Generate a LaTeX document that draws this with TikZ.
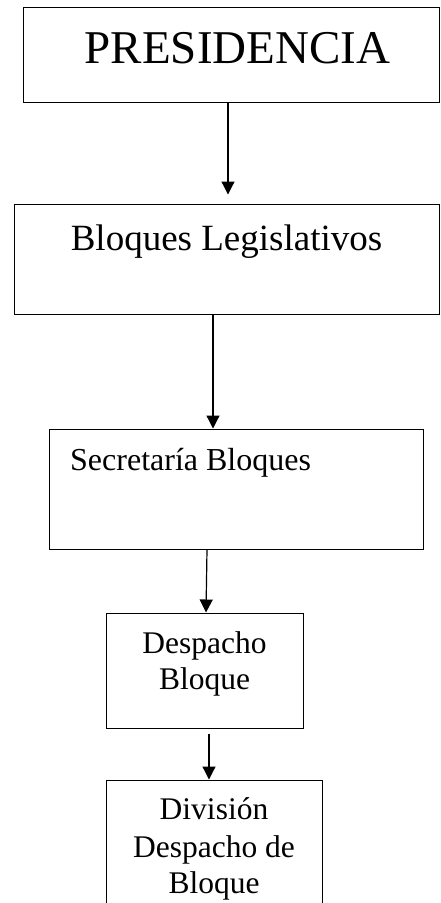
\documentclass[tikz,border=0pt]{standalone}
\usepackage{fontspec}
\setmainfont{Liberation Serif}
\usetikzlibrary{arrows.meta}
\usetikzlibrary{positioning}
\tikzset{box/.style = {draw, rectangle, line width = 1pt, inner sep = 0}}
\tikzset{arr/.style = {line width = 1.2pt, -{Triangle[length = 13pt, width = 13pt]}}}
\tikzset{txt/.style = {anchor = base, inner sep = 0}}

\begin{document}
\begin{tikzpicture}[x = 1pt, y = 1pt]
    \clip (0, 0) rectangle (440, -903);

    \node [box, minimum width = 416pt, minimum height = 95pt] (pres) at (231, -54.5) {};
    \node [txt, font = \fontsize{47}{56}\selectfont] (presText) at (237.5, -63) {PRESIDENCIA};

    \node [box, minimum width = 425pt, minimum height = 110pt] (bloq) at (226.5, -259) {};
    \node [txt, font = \fontsize{37}{44}\selectfont] (bloqText) at (226.5, -250) {Bloques Legislativos};

    \node [box, minimum width = 374pt, minimum height = 120pt] (sec) at (236, -489) {};
    \node [txt, anchor = base west, font = \fontsize{32}{38}\selectfont] (secText) at (70, -470) {Secretaría Bloques};

    \node [box, minimum width = 197pt, minimum height = 115pt] (desp) at (204.5, -670.5) {};
    \node [txt, font = \fontsize{31.5}{36}\selectfont] (despA) at (204.5, -653) {Despacho};
    \node [txt, font = \fontsize{31.5}{36}\selectfont] (despB) at (204.5, -689) {Bloque};

    \node [box, minimum width = 216pt, minimum height = 150pt] (div) at (214, -855) {};
    \node [txt, font = \fontsize{31.5}{36}\selectfont] (divA) at (214, -819) {División};
    \node [txt, font = \fontsize{31.5}{36}\selectfont] (divB) at (214, -857) {Despacho de};
    \node [txt, font = \fontsize{31.5}{36}\selectfont] (divC) at (214, -893) {Bloque};

    \draw [arr] ([xshift = -3pt] pres.south) -- ([xshift = 1.5pt, yshift = 9pt] bloq.north);
    \draw [arr] ([xshift = -13.5pt] bloq.south) -- ([xshift = -23pt] sec.north);
    \draw [arr] ([xshift = -29pt] sec.south) -- ([xshift = 1.5pt] desp.north);
    \draw [arr] ([xshift = 4.5pt, yshift = -5pt] desp.south) -- ([xshift = -5pt] div.north);
\end{tikzpicture}
\end{document}
